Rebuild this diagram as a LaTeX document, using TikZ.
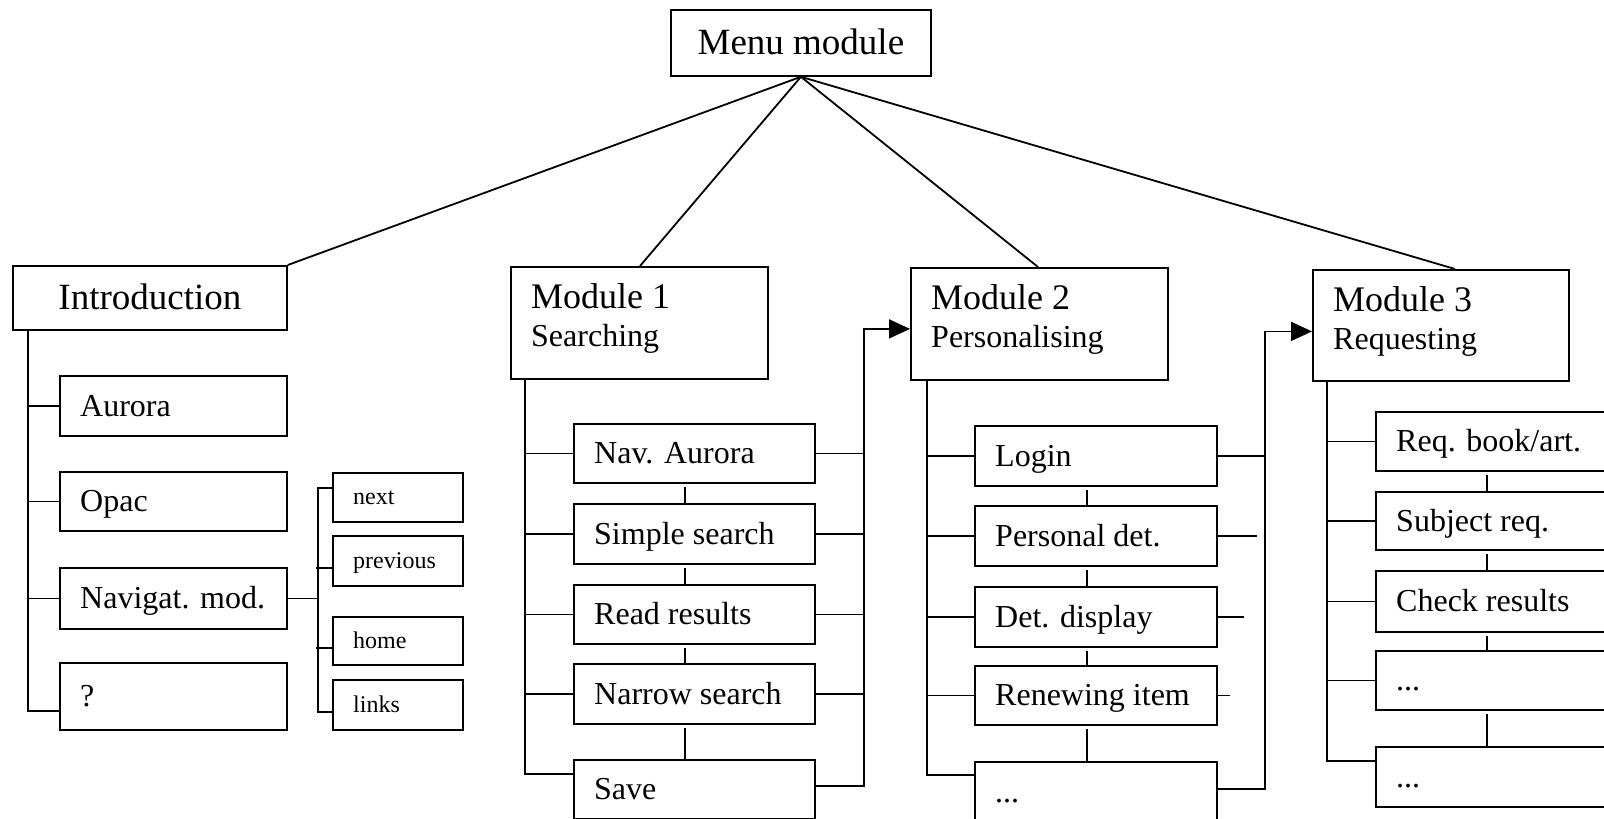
\documentclass[tikz,border=0pt]{standalone}
\usepackage{fontspec}
\setmainfont{Liberation Serif}
\usetikzlibrary{arrows.meta}
\tikzset{
  bx/.style={draw, line width=1.8pt, inner sep=0pt, anchor=north west},
  ln/.style={line width=1.8pt},
  arr/.style={ln, -{Triangle[length=21pt,width=19pt]}},
  lbl/.style={anchor=west, inner sep=0pt, text height=21pt, text depth=0pt, font=\fontsize{32}{38}\selectfont},
  sml/.style={anchor=west, inner sep=0pt, text height=15pt, text depth=0pt, font=\fontsize{24}{28}\selectfont},
  big/.style={inner sep=0pt, text height=24pt, text depth=0pt, font=\fontsize{37}{44}\selectfont},
  hdone/.style={anchor=base west, inner sep=0pt, font=\fontsize{36}{42}\selectfont},
  hdtwo/.style={anchor=base west, inner sep=0pt, font=\fontsize{32}{38}\selectfont},
}
\newcommand\mkbox[5]{\node[bx, minimum width=#4pt, minimum height=#5pt] (#1) at (#2,#3) {};}
\newcommand\lab[2]{\node[lbl] (t#1) at ([xshift=21pt]#1.west) {#2};}
\newcommand\slab[2]{\node[sml] (t#1) at ([xshift=21pt]#1.west) {#2};}
\newcommand\hdr[3]{%
  \node[hdone] (ta#1) at ([xshift=21pt,yshift=-42pt]#1.north west) {#2};
  \node[hdtwo] (tb#1) at ([xshift=21pt,yshift=-80pt]#1.north west) {#3};}
\begin{document}
\begin{tikzpicture}[x=1pt,y=-1pt]
\useasboundingbox (0,0) rectangle (1604,819);
\clip (0,0) rectangle (1604,819);
\fill[white] (0,0) rectangle (1604,819);

% boxes
\mkbox{menu}{670}{9}{260}{66}
\mkbox{intro}{12}{265}{274}{64}
\mkbox{aur}{59}{375}{227}{60}
\mkbox{opac}{59}{471}{227}{59}
\mkbox{navm}{59}{567}{227}{61}
\mkbox{qm}{59}{662}{227}{67}
\mkbox{next}{332}{472}{130}{49}
\mkbox{prev}{332}{535}{130}{50}
\mkbox{home}{332}{616}{130}{48}
\mkbox{links}{332}{679}{130}{50}

\mkbox{ma}{510}{266}{257}{112}
\mkbox{navA}{573}{423}{241}{59}
\mkbox{simp}{573}{503}{241}{60}
\mkbox{read}{573}{584}{241}{59}
\mkbox{narr}{573}{663}{241}{60}
\mkbox{save}{573}{759}{241}{59}

\mkbox{mb}{910}{267}{257}{112}
\mkbox{login}{974}{425}{242}{60}
\mkbox{pers}{974}{505}{242}{60}
\mkbox{detd}{974}{586}{242}{60}
\mkbox{renew}{974}{665}{242}{59}
\mkbox{dotsb}{974}{761}{242}{60}

\mkbox{mc}{1312}{269}{256}{111}
\mkbox{req}{1375}{411}{260}{59}
\mkbox{subj}{1375}{491}{260}{58}
\mkbox{check}{1375}{570}{260}{61}
\mkbox{dca}{1375}{650}{260}{59}
\mkbox{dcb}{1375}{746}{260}{60}

% labels
\node[big] (tmenu) at (menu.center) {Menu module};
\node[big] (tintro) at (intro.center) {Introduction};
\lab{aur}{Aurora}
\lab{opac}{Opac}
\lab{navm}{Navigat. mod.}
\lab{qm}{?}
\slab{next}{next}
\slab{prev}{previous}
\slab{home}{home}
\slab{links}{links}
\hdr{ma}{Module 1}{Searching}
\lab{navA}{Nav. Aurora}
\lab{simp}{Simple search}
\lab{read}{Read results}
\lab{narr}{Narrow search}
\lab{save}{Save}
\hdr{mb}{Module 2}{Personalising}
\lab{login}{Login}
\lab{pers}{Personal det.}
\lab{detd}{Det. display}
\lab{renew}{Renewing item}
\lab{dotsb}{...}
\hdr{mc}{Module 3}{Requesting}
\lab{req}{Req. book/art.}
\lab{subj}{Subject req.}
\lab{check}{Check results}
\lab{dca}{...}
\lab{dcb}{...}

% menu connectors
\draw[ln] (menu.south) -- (intro.north east);
\draw[ln] (menu.south) -- ([xshift=130pt]ma.north west);
\draw[ln] (menu.south) -- ([xshift=128pt]mb.north west);
\draw[ln] (menu.south) -- ([xshift=143pt]mc.north west);

% introduction
\draw[ln] ([xshift=16pt]intro.south west) |- ([yshift=-14.5pt]qm.west);
\foreach \b in {aur,opac,navm} \draw[ln] (\b.west) -- ++(-31,0);
\draw[ln] (navm.east) -- ++(30,0) coordinate (nt);
\draw[ln] ([yshift=9.5pt]next.west) -| (nt) |- ([yshift=-7pt]links.west);
\draw[ln] ([yshift=-7pt]prev.west) -- ++(-16,0);
\draw[ln] ([yshift=-7pt]home.west) -- ++(-16,0);

% module 1
\draw[ln] ([xshift=15pt]ma.south west) |- ([yshift=-15pt]save.north west);
\foreach \b in {navA,simp,read,narr} {
  \draw[ln] (\b.west) -- ++(-48,0);
  \draw[ln] (\b.east) -- ++(48,0);
}
\foreach \a/\b in {navA/simp,simp/read,read/narr,narr/save}
  \draw[ln, shorten <=3pt] ([xshift=112pt]\a.south west) -- ([xshift=112pt]\b.north west);
\draw[arr] ([yshift=3.5pt]save.east) -- ++(48,0) |- ([yshift=-5pt]mb.west);

% module 2
\draw[ln] ([xshift=17pt]mb.south west) |- ([yshift=-14pt]dotsb.north west);
\foreach \b in {login,pers,detd,renew} \draw[ln] (\b.west) -- ++(-47,0);
\foreach \a/\b in {login/pers,pers/detd,detd/renew,renew/dotsb}
  \draw[ln, shorten <=3pt] ([xshift=113pt]\a.south west) -- ([xshift=113pt]\b.north west);
\draw[ln] (login.east) -- ++(47,0);
\draw[ln] (pers.east) -- ++(39,0);
\draw[ln] (detd.east) -- ++(26,0);
\draw[ln] (renew.east) -- ++(12,0);
\draw[arr] ([yshift=3pt]dotsb.east) -- ++(47,0) |- ([yshift=-6pt]mc.west);

% module 3
\draw[ln] ([xshift=15pt]mc.south west) |- ([yshift=-15pt]dcb.north west);
\foreach \b in {req,subj,check,dca} \draw[ln] (\b.west) -- ++(-48,0);
\foreach \a/\b in {req/subj,subj/check,check/dca,dca/dcb}
  \draw[ln, shorten <=3pt] ([xshift=112pt]\a.south west) -- ([xshift=112pt]\b.north west);
\end{tikzpicture}
\end{document}
